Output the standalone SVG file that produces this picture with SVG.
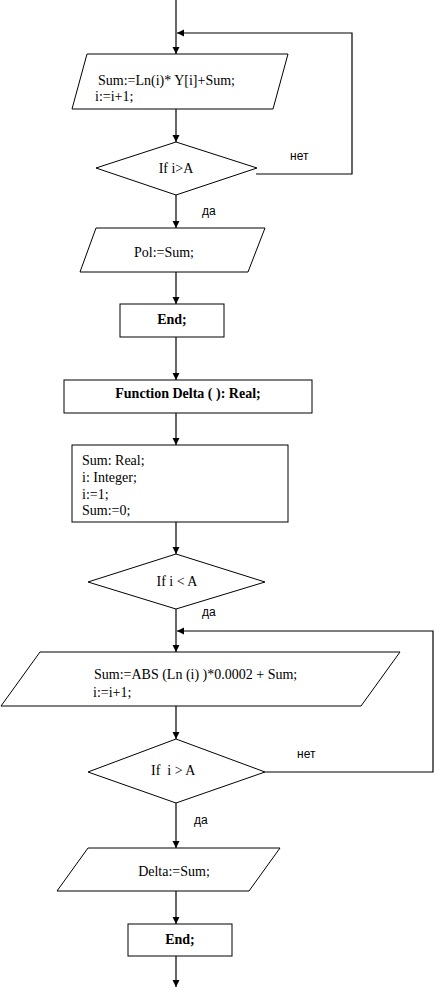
<svg xmlns="http://www.w3.org/2000/svg" width="434" height="990" viewBox="0 0 434 990">
<defs>
<marker id="ah" markerWidth="8" markerHeight="8" refX="7" refY="4" orient="auto" markerUnits="userSpaceOnUse">
<path d="M0,0.5 L7,4 L0,7.5 Z" fill="#000"/>
</marker>
<style>
.s{fill:#fff;stroke:#000;stroke-width:1}
.c{fill:none;stroke:#000;stroke-width:1.2;marker-end:url(#ah)}
.t{font-family:"Liberation Serif","Times New Roman",serif;font-size:14px;fill:#000}
.b{font-family:"Liberation Serif","Times New Roman",serif;font-size:14px;font-weight:bold;fill:#000}
.y{font-family:"Liberation Sans",Arial,sans-serif;font-size:12px;fill:#000}
</style>
</defs>
<rect width="434" height="990" fill="#fff"/>
<g id="connectors">
<path class="c" d="M176,0 V54"/>
<path class="c" d="M256,174 H352 V33 H177"/>
<path class="c" d="M176,109 V142"/>
<path class="c" d="M176,195 V228"/>
<path class="c" d="M176,272 V304"/>
<path class="c" d="M176,337 V380"/>
<path class="c" d="M176,413 V445"/>
<path class="c" d="M176,522 V554"/>
<path class="c" d="M176,609 V652"/>
<path class="c" d="M265,772 H433 V631 H177"/>
<path class="c" d="M176,706 V739"/>
<path class="c" d="M176,803 V848"/>
<path class="c" d="M176,891 V924"/>
<path class="c" d="M176,956 V987"/>
<text class="y" x="290" y="160">нет</text>
<text class="y" x="202" y="215">да</text>
<text class="y" x="202" y="616">да</text>
<text class="y" x="297" y="758">нет</text>
<text class="y" x="194" y="824">да</text>
</g>
<g id="n1">
<polygon class="s" points="87,54 288,54 273,109 72,109"/>
<text class="t" x="98" y="85">Sum:=Ln(i)* Y[i]+Sum;</text>
<text class="t" x="95" y="101">i:=i+1;</text>
</g>
<g id="n2">
<polygon class="s" points="176,142 257,168 176,195 96,168"/>
<text class="t" x="176" y="173" text-anchor="middle">If i&gt;A</text>
</g>
<g id="n3">
<polygon class="s" points="96,228 265,228 248,272 80,272"/>
<text class="t" x="164" y="257" text-anchor="middle">Pol:=Sum;</text>
</g>
<g id="n4">
<rect class="s" x="120" y="304" width="104" height="33"/>
<text class="b" x="172" y="324" text-anchor="middle">End;</text>
</g>
<g id="n5">
<rect class="s" x="64" y="380" width="248" height="33"/>
<text class="b" x="188" y="398" text-anchor="middle">Function Delta ( ): Real;</text>
</g>
<g id="n6">
<rect class="s" x="72" y="445" width="216" height="77"/>
<text class="t" x="82" y="465">Sum: Real;</text>
<text class="t" x="82" y="482">i: Integer;</text>
<text class="t" x="82" y="499">i:=1;</text>
<text class="t" x="82" y="515">Sum:=0;</text>
</g>
<g id="n7">
<polygon class="s" points="176,554 265,582 176,609 88,582"/>
<text class="t" x="177" y="586" text-anchor="middle">If i &lt; A</text>
</g>
<g id="n8">
<polygon class="s" points="40,652 400,652 361,706 1,706"/>
<text class="t" x="94" y="679">Sum:=ABS (Ln (i) )*0.0002 + Sum;</text>
<text class="t" x="93" y="697">i:=i+1;</text>
</g>
<g id="n9">
<polygon class="s" points="176,739 265,772 176,803 88,772"/>
<text class="t" x="151" y="775" xml:space="preserve">If  i &gt; A</text>
</g>
<g id="n10">
<polygon class="s" points="88,848 280,848 249,891 57,891"/>
<text class="t" x="174" y="876" text-anchor="middle">Delta:=Sum;</text>
</g>
<g id="n11">
<rect class="s" x="128" y="924" width="104" height="32"/>
<text class="b" x="180" y="944" text-anchor="middle">End;</text>
</g>
</svg>
